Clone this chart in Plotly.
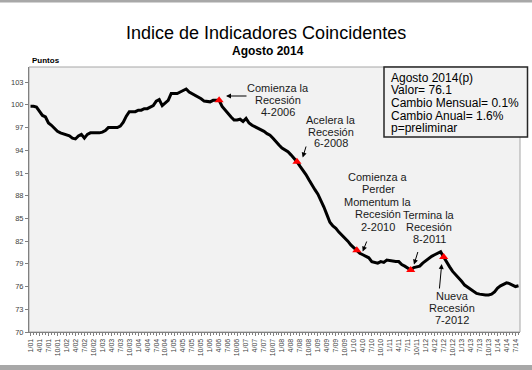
import plotly.graph_objects as go

# ---------------- data ----------------
years = list(range(2001, 2015))
month_labels = [f"{m}/{y % 100:02d}" for y in years for m in range(1, 13)][:164]

values = [
    # 2001
    99.8, 99.8, 99.7, 99.2, 98.6, 98.4, 97.6, 97.3, 96.9, 96.5, 96.3, 96.2,
    # 2002
    96.1, 95.9, 95.6, 95.5, 95.9, 96.1, 95.6, 96.1, 96.3, 96.3, 96.3, 96.3,
    # 2003
    96.4, 96.6, 97.0, 97.0, 97.0, 97.0, 97.2, 97.7, 98.5, 99.1, 99.1, 99.1,
    # 2004
    99.3, 99.3, 99.5, 99.5, 99.7, 99.9, 100.5, 100.7, 99.9, 100.3, 100.6, 101.5,
    # 2005
    101.5, 101.5, 101.7, 101.9, 102.1, 101.7, 101.5, 101.2, 101.0, 100.8, 100.5, 100.4,
    # 2006
    100.4, 100.6, 100.6, 100.6, 99.8, 99.3, 98.8, 98.4, 98.0, 98.0, 98.1, 97.8,
    # 2007
    98.2, 97.6, 97.3, 97.1, 97.0, 96.8, 96.5, 96.2, 96.0, 95.6, 95.1, 94.7,
    # 2008
    94.3, 94.1, 93.8, 93.4, 93.0, 92.5, 91.9, 91.4, 90.8, 90.1, 89.4, 88.8,
    # 2009
    88.2, 87.4, 86.5, 85.5, 84.5, 84.0, 83.7, 83.2, 82.8, 82.5, 82.0, 81.5,
    # 2010
    81.1, 80.8, 80.4, 80.2, 80.0, 79.8, 79.3, 79.2, 79.1, 79.3, 79.2, 79.5,
    # 2011
    79.4, 79.3, 79.3, 79.3, 78.9, 78.7, 78.4, 78.2, 78.5, 78.6, 78.7, 79.1,
    # 2012
    79.4, 79.8, 80.0, 80.2, 80.4, 80.6, 79.9, 79.2, 78.6, 78.0, 77.6, 77.1,
    # 2013
    76.7, 76.2, 75.9, 75.6, 75.3, 75.1, 75.0, 74.9, 74.9, 74.9, 75.0, 75.3,
    # 2014
    75.8, 76.1, 76.3, 76.5, 76.4, 76.2, 76.0, 76.1,
]

event_months = ["4/06", "6/08", "2/10", "8/11", "7/12"]
y_ticks = list(range(70, 104, 3))

info_lines = ["Agosto 2014(p)", "Valor= 76.1", "Cambio Mensual= 0.1%",
              "Cambio Anual= 1.6%", "p=preliminar"]

# ---------------- geometry helpers ----------------
W, H = 532, 370
L, R, T, B = 29, 12, 67, 38
PW, PH = W - L - R, H - T - B


def px(xp):
    return (xp - L) / PW


def py(yp):
    return (H - B - yp) / PH


x_idx = list(range(len(values)))
event_idx = [month_labels.index(m) for m in event_months]
event_vals = [values[i] for i in event_idx]

FONT = "Liberation Sans, Arial, sans-serif"

fig = go.Figure()
fig.add_trace(go.Scatter(x=x_idx, y=values, mode="lines",
                         line=dict(color="black", width=3), hoverinfo="skip"))
fig.add_trace(go.Scatter(x=event_idx, y=event_vals, mode="markers",
                         marker=dict(symbol="triangle-up", size=8, color="#ff0000"),
                         hoverinfo="skip"))

annotations = []


def label(text, xp, yp, size, anchor="center", color="#000"):
    annotations.append(dict(text=text, x=px(xp), y=py(yp), xref="paper", yref="paper",
                            xanchor=anchor, yanchor="middle", showarrow=False,
                            font=dict(family=FONT, size=size, color=color)))


# titles
label("Indice de Indicadores Coincidentes", 266, 33, 18)
label("<b>Agosto 2014</b>", 268, 51, 12)
label("<b>Puntos</b>", 30, 60, 8, anchor="left")

# event notes (one annotation per line to mimic tight spacing)
notes = [
    (["Comienza la", "Recesión", "4-2006"], 278, 88, 12.2),
    (["Acelera la", "Recesión", "6-2008"], 331, 120, 11.7),
    (["Comienza a", "Perder", "Momentum la", "Recesión", "2-2010"], 378, 176.5, 12.6),
    (["Termina la", "Recesión", "8-2011"], 429, 215, 12.2),
    (["Nueva", "Recesión", "7-2012"], 452, 295.5, 12.0),
]
for lines, cx, y0, dy in notes:
    for k, s in enumerate(lines):
        label(s, cx, y0 + k * dy, 11, color="#1a1a1a")

# arrows: (tail px, tail py, head px, head py)
arrows = [
    (248, 96, 226, 96),
    (306.5, 145, 302.7, 157.5),
    (367.3, 240, 362.7, 251.5),
    (418.3, 250.5, 414, 264.5),
    (439.3, 290, 441.7, 264),
]
for tx, ty, hx, hy in arrows:
    annotations.append(dict(text="", x=px(hx), y=py(hy), ax=tx - hx, ay=ty - hy,
                            xref="paper", yref="paper", showarrow=True,
                            arrowhead=2, arrowsize=1, arrowwidth=1, arrowcolor="#000"))

# info box lines
for k, s in enumerate(info_lines):
    label(s, 389, 77.5 + k * 12.7, 12, anchor="left")

shapes = [
    # plot border
    dict(type="rect", xref="paper", yref="paper", x0=0, x1=1, y0=0, y1=1,
         line=dict(color="#a6a6a6", width=1), layer="below"),
    # info box
    dict(type="rect", xref="paper", yref="paper", x0=px(384), x1=px(527.5), y0=py(137), y1=py(67),
         line=dict(color="#262626", width=1.5), fillcolor="#f2f2f2"),
    # outer frame bands
    dict(type="rect", xref="paper", yref="paper", x0=px(0), x1=px(W), y0=py(0), y1=py(2.5),
         line=dict(width=0), fillcolor="#a8a8a8"),
    dict(type="rect", xref="paper", yref="paper", x0=px(0), x1=px(W), y0=py(365), y1=py(H),
         line=dict(width=0), fillcolor="#a8a8a8"),
]

tick_idx = list(range(0, len(values), 3))
fig.update_layout(
    width=W, height=H,
    margin=dict(l=L, r=R, t=T, b=B, pad=0),
    paper_bgcolor="white", plot_bgcolor="#f2f2f2",
    showlegend=False,
    annotations=annotations, shapes=shapes,
    xaxis=dict(range=[-0.5, len(values) - 0.5], tickmode="array", tickvals=tick_idx,
               ticktext=[month_labels[i] for i in tick_idx], tickangle=-90,
               tickfont=dict(family=FONT, size=7, color="#404040"),
               ticks="outside", ticklen=3, tickcolor="#808080",
               minor=dict(tickvals=x_idx, ticks="outside", ticklen=2, tickcolor="#808080"),
               showgrid=False, zeroline=False, showline=True, linecolor="#808080", linewidth=1),
    yaxis=dict(range=[70, 105], tickmode="array", tickvals=y_ticks,
               tickfont=dict(family=FONT, size=7.5, color="#404040"),
               ticks="outside", ticklen=3, tickcolor="#808080",
               showgrid=False, zeroline=False, showline=True, linecolor="#808080", linewidth=1),
)

fig.write_html("out.html", config={"displayModeBar": False},
               post_script="document.body.style.margin='0';document.body.style.overflow='hidden';")
